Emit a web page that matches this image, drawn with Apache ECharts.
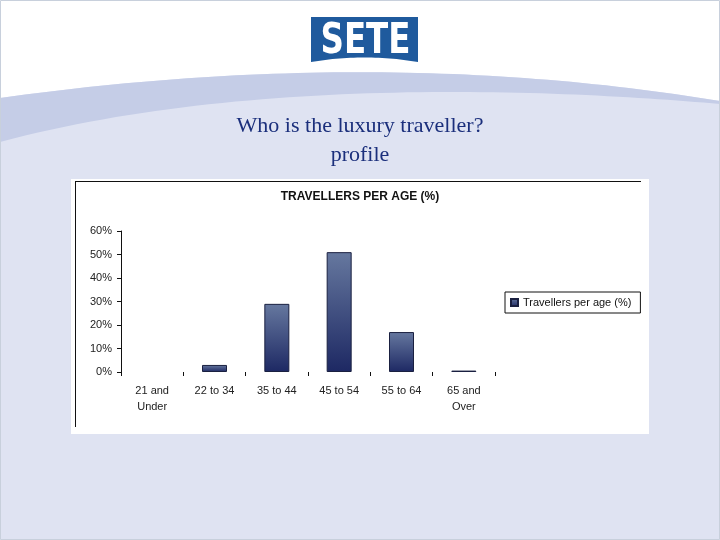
<!DOCTYPE html>
<html>
<head>
<meta charset="utf-8">
<script src="https://cdn.jsdelivr.net/npm/echarts@6/dist/echarts.min.js"></script>
<style>
html,body{margin:0;padding:0;background:#dfe3f2;}
#chart{width:720px;height:540px;}
</style>
</head>
<body>
<div id="chart"></div>
<script>
var categories = ['21 and\nUnder', '22 to 34', '35 to 44', '45 to 54', '55 to 64', '65 and\nOver'];
var travellersPerAge = [0, 3, 29, 51, 17, 0.6];
var seriesName = 'Travellers per age (%)';
var chartTitle = 'TRAVELLERS PER AGE (%)';
var slideTitle = 'Who is the luxury traveller?\nprofile';
var logoText = 'SETE';

// decorative curve helpers (slide background only)
function quad(p0, c, p1, n) {
  var pts = [];
  for (var i = 0; i <= n; i++) {
    var t = i / n, a = (1 - t) * (1 - t), b = 2 * t * (1 - t), d = t * t;
    pts.push([a * p0[0] + b * c[0] + d * p1[0], a * p0[1] + b * c[1] + d * p1[1]]);
  }
  return pts;
}
function cubic(p0, c1, c2, p1, n) {
  var pts = [];
  for (var i = 0; i <= n; i++) {
    var t = i / n, u = 1 - t;
    var a = u * u * u, b = 3 * u * u * t, c = 3 * u * t * t, d = t * t * t;
    pts.push([a * p0[0] + b * c1[0] + c * c2[0] + d * p1[0], a * p0[1] + b * c1[1] + c * c2[1] + d * p1[1]]);
  }
  return pts;
}
var topEdge = quad([0, 98], [380, 45], [720, 101], 60);
var whitePts = [[0, 0], [720, 0]].concat(topEdge.slice().reverse());
var bandPts = topEdge.concat(cubic([720, 104], [560, 90], [250, 75], [0, 142], 60));
var logoPts = [[311, 17], [418, 17]].concat(quad([418, 62], [364.5, 53], [311, 62], 30));

var barData = travellersPerAge.map(function (v) {
  return v === 0 ? {value: v, itemStyle: {borderWidth: 0}} : v;
});

var chart = echarts.init(document.getElementById('chart'), null, {renderer: 'canvas'});
chart.setOption({
  animation: false,
  backgroundColor: '#dfe3f2',
  graphic: [
    {type: 'polygon', z: -20, shape: {points: whitePts}, style: {fill: '#ffffff'}},
    {type: 'polygon', z: -19, shape: {points: bandPts}, style: {fill: '#c5cde7'}},
    {type: 'rect', z: -18, shape: {x: 0.5, y: 0.5, width: 719, height: 539}, style: {fill: 'none', stroke: '#c8d0dc', lineWidth: 1}},
    {type: 'polygon', z: -17, shape: {points: logoPts}, style: {fill: '#1f5a9d'}},
    {type: 'text', z: -16, x: 365.5, y: 42, scaleX: 0.86,
     style: {text: logoText, fill: '#ffffff', font: 'bold 42px "DejaVu Sans Condensed"', align: 'center', verticalAlign: 'middle'}},
    {type: 'rect', z: -15, shape: {x: 71, y: 179, width: 578, height: 255}, style: {fill: '#ffffff'}},
    {type: 'line', z: -14, shape: {x1: 75, y1: 181.5, x2: 641, y2: 181.5}, style: {stroke: '#111111', lineWidth: 1}},
    {type: 'line', z: -14, shape: {x1: 75.5, y1: 181, x2: 75.5, y2: 427}, style: {stroke: '#111111', lineWidth: 1}}
  ],
  title: [
    {text: slideTitle, left: 'center', top: 112, padding: 0,
     textStyle: {fontFamily: 'Liberation Serif', fontSize: 22, fontWeight: 'normal', color: '#1b2f7c', lineHeight: 29}},
    {text: chartTitle, left: 'center', top: 191, padding: 0,
     textStyle: {fontFamily: 'Liberation Sans', fontSize: 12, fontWeight: 'bold', color: '#111111'}}
  ],
  legend: {
    left: 505, top: 292, orient: 'vertical',
    borderColor: '#111111', borderWidth: 1, padding: [5, 9, 5, 5],
    itemWidth: 7, itemHeight: 7, itemGap: 0, icon: 'rect',
    textStyle: {fontFamily: 'Liberation Sans', fontSize: 11, color: '#111111'},
    data: [seriesName]
  },
  grid: {left: 121, right: 225, top: 231, bottom: 168, containLabel: false},
  xAxis: {
    type: 'category', data: categories, boundaryGap: true,
    axisLine: {show: false},
    axisTick: {show: true, length: 4, lineStyle: {color: '#111111'}},
    axisLabel: {fontFamily: 'Liberation Sans', fontSize: 11, color: '#222222', margin: 11, lineHeight: 16, interval: 0}
  },
  yAxis: {
    type: 'value', min: 0, max: 60, interval: 10,
    axisLine: {show: true, lineStyle: {color: '#111111'}},
    axisTick: {show: true, length: 4, lineStyle: {color: '#111111'}},
    splitLine: {show: false},
    axisLabel: {formatter: '{value}%', fontFamily: 'Liberation Sans', fontSize: 11, color: '#222222', margin: 9}
  },
  series: [{
    name: seriesName, type: 'bar', data: barData, barWidth: 25,
    itemStyle: {
      color: {type: 'linear', x: 0, y: 0, x2: 0, y2: 1, colorStops: [
        {offset: 0, color: '#66789f'}, {offset: 1, color: '#1d2863'}
      ]},
      borderColor: '#1a2040', borderWidth: 1
    }
  }]
});
</script>
</body>
</html>
